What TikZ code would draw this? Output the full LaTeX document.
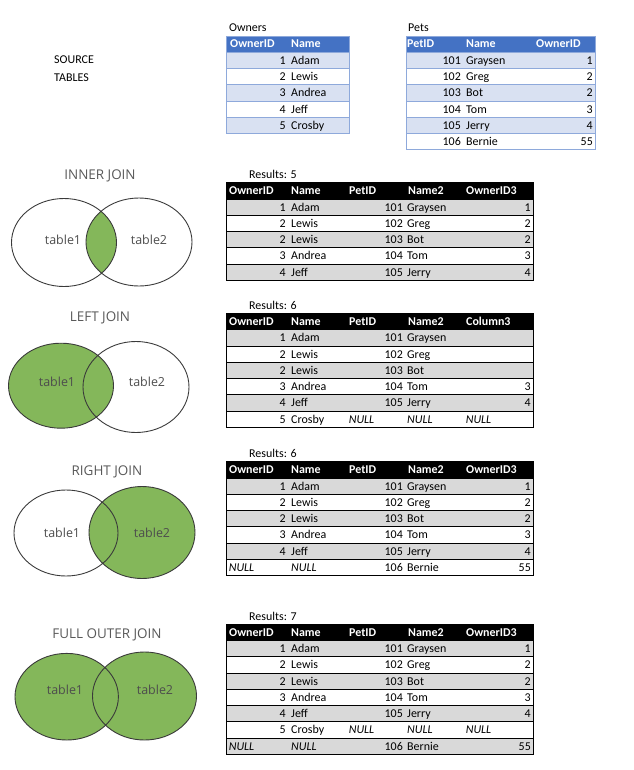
\documentclass[tikz,border=0pt]{standalone}
\usepackage{fontspec}
\setmainfont{Carlito}
\newfontfamily\vennfont{Open Sans}
\usepackage{tikz}
\definecolor{srchead}{HTML}{4472C4}
\definecolor{srcrow}{HTML}{D9E1F2}
\definecolor{srcline}{HTML}{8EA9DB}
\definecolor{resrow}{HTML}{D9D9D9}
\definecolor{venngreen}{HTML}{84B75A}
\definecolor{venndraw}{HTML}{3A3A3A}
\definecolor{titlegray}{HTML}{595959}
\definecolor{labelgray}{HTML}{4D4D4D}

\newcommand{\tabfont}{\fontsize{12}{14}\selectfont}
\newcommand{\nulw}[1]{\makebox[#1bp][l]{\itshape NULL}}
\newcommand{\nult}{\textit{NULL}}

% result table: name, top, rows, last header, data
\newcommand{\resulttable}[5]{%
  \node[txt] (#1-res) at (249,#2-4) {Results: #3};
  \fill[black] (226,#2) rectangle (533,#2+16.4);
  \foreach \a/\b/\c/\d/\e [count=\i] in {#5} {
    \pgfmathsetmacro\rtop{#2+16.4+(\i-1)*16.25}
    \ifodd\i\relax \fill[resrow] (226,\rtop) rectangle (533,\rtop+16.25); \fi
    \draw[resline] (226,\rtop) -- (533,\rtop);
    \node[num] (#1-\i-a) at (286,\rtop+12.1) {\a};
    \node[txt] (#1-\i-b) at (291,\rtop+12.1) {\b};
    \node[num] (#1-\i-c) at (403,\rtop+12.1) {\c};
    \node[txt] (#1-\i-d) at (407,\rtop+12.1) {\d};
    \node[num] (#1-\i-e) at (531,\rtop+12.1) {\e};
  }
  \draw[resline] (226,#2) rectangle (533,#2+16.4+#3*16.25);
  \node[hdr] (#1-h1) at (229,#2+12.3) {OwnerID};
  \node[hdr] (#1-h2) at (291,#2+12.3) {Name};
  \node[hdr] (#1-h3) at (349,#2+12.3) {PetID};
  \node[hdr] (#1-h4) at (408,#2+12.3) {Name2};
  \node[hdr] (#1-h5) at (466,#2+12.3) {#4};
}

\begin{document}
\begin{tikzpicture}[x=1bp, y=-1bp,
    cell/.style={inner sep=0pt, font=\tabfont},
    num/.style={cell, anchor=base east},
    txt/.style={cell, anchor=base west},
    hdr/.style={txt, text=white, font=\tabfont\bfseries},
    srcborder/.style={draw=srcline, line width=0.8pt},
    resline/.style={draw=black, line width=0.8pt},
    venn/.style={draw=venndraw, line width=0.9pt},
    vtitle/.style={font=\vennfont\fontsize{13.5}{16}\selectfont, text=titlegray},
    vlabel/.style={font=\vennfont\fontsize{12.5}{14}\selectfont, text=labelgray}
]
    \useasboundingbox (0,0) rectangle (634,770);

    % source tables
    \node[txt] (src1) at (54,64) {SOURCE};
    \node[txt] (src2) at (54,81) {TABLES};

    \node[txt] (owners) at (229,32) {Owners};
    \fill[srchead] (226,36) rectangle (349,52);
    \foreach \n/\nm [count=\i] in {1/Adam, 2/Lewis, 3/Andrea, 4/Jeff, 5/Crosby} {
        \pgfmathsetmacro\rtop{52+(\i-1)*16.3}
        \ifodd\i\relax \fill[srcrow] (226,\rtop) rectangle (349,\rtop+16.3); \fi
        \draw[srcborder] (226,\rtop) -- (349,\rtop);
        \node[num] (own-\i-id) at (286,\rtop+12.1) {\n};
        \node[txt] (own-\i-nm) at (291,\rtop+12.1) {\nm};
    }
    \draw[srcborder] (226,36) rectangle (349,133.5);
    \node[hdr] (own-h1) at (230,48) {OwnerID};
    \node[hdr] (own-h2) at (291,48) {Name};

    \node[txt] (pets) at (408,32) {Pets};
    \fill[srchead] (406,36) rectangle (595,52);
    \foreach \p/\nm/\o [count=\i] in {101/Graysen/1, 102/Greg/2, 103/Bot/2,
                                      104/Tom/3, 105/Jerry/4, 106/Bernie/55} {
        \pgfmathsetmacro\rtop{52+(\i-1)*16.3}
        \ifodd\i\relax \fill[srcrow] (406,\rtop) rectangle (595,\rtop+16.3); \fi
        \draw[srcborder] (406,\rtop) -- (595,\rtop);
        \node[num] (pet-\i-id) at (461,\rtop+12.1) {\p};
        \node[txt] (pet-\i-nm) at (466,\rtop+12.1) {\nm};
        \node[num] (pet-\i-own) at (593,\rtop+12.1) {\o};
    }
    \draw[srcborder] (406,36) rectangle (595,149.8);
    \node[hdr] (pet-h1) at (407,48) {PetID};
    \node[hdr] (pet-h2) at (466,48) {Name};
    \node[hdr] (pet-h3) at (536,48) {OwnerID};

    % inner join
    \node[vtitle] (inner-title) at (100,176) {INNER JOIN};
    \begin{scope}
        \clip (64,242.5) ellipse [x radius=52.5bp, y radius=44bp];
        \fill[venngreen] (139,242) ellipse [x radius=53bp, y radius=44bp];
    \end{scope}
    \draw[venn] (64,242.5) ellipse [x radius=52.5bp, y radius=44bp]
                (139,242) ellipse [x radius=53bp, y radius=44bp];
    \node[vlabel] (inner-t1) at (63,240) {table1};
    \node[vlabel] (inner-t2) at (149,240) {table2};
    \resulttable{inner}{182.5}{5}{OwnerID3}{1/Adam/101/Graysen/1, 2/Lewis/102/Greg/2,
        2/Lewis/103/Bot/2, 3/Andrea/104/Tom/3, 4/Jeff/105/Jerry/4}

    % left join
    \node[vtitle] (left-title) at (100,318) {LEFT JOIN};
    \fill[venngreen] (61,385.7) ellipse [x radius=52.5bp, y radius=42.5bp];
    \draw[venn] (61,385.7) ellipse [x radius=52.5bp, y radius=42.5bp]
                (136,387) ellipse [x radius=53bp, y radius=45.5bp];
    \node[vlabel] (left-t1) at (57,382) {table1};
    \node[vlabel] (left-t2) at (147,382) {table2};
    \resulttable{left}{313.3}{6}{Column3}{1/Adam/101/Graysen/{}, 2/Lewis/102/Greg/{},
        2/Lewis/103/Bot/{}, 3/Andrea/104/Tom/3, 4/Jeff/105/Jerry/4,
        5/Crosby/\nulw{54}/\nult/\nulw{65}}

    % right join
    \node[vtitle] (right-title) at (107,472) {RIGHT JOIN};
    \fill[venngreen] (142,532.5) ellipse [x radius=53bp, y radius=46bp];
    \draw[venn] (66,533) ellipse [x radius=52bp, y radius=43bp]
                (142,532.5) ellipse [x radius=53bp, y radius=46bp];
    \node[vlabel] (right-t1) at (62,533) {table1};
    \node[vlabel] (right-t2) at (152,533) {table2};
    \resulttable{right}{461.5}{6}{OwnerID3}{1/Adam/101/Graysen/1, 2/Lewis/102/Greg/2,
        2/Lewis/103/Bot/2, 3/Andrea/104/Tom/3, 4/Jeff/105/Jerry/4,
        \nulw{57}/\nult/106/Bernie/55}

    % full outer join
    \node[vtitle] (full-title) at (107,635) {FULL OUTER JOIN};
    \fill[venngreen] (66.7,696.7) ellipse [x radius=51.7bp, y radius=43.3bp]
                     (144.5,696) ellipse [x radius=52bp, y radius=44bp];
    \draw[venn] (66.7,696.7) ellipse [x radius=51.7bp, y radius=43.3bp]
                (144.5,696) ellipse [x radius=52bp, y radius=44bp];
    \node[vlabel] (full-t1) at (65,690) {table1};
    \node[vlabel] (full-t2) at (155,690) {table2};
    \resulttable{full}{624}{7}{OwnerID3}{1/Adam/101/Graysen/1, 2/Lewis/102/Greg/2,
        2/Lewis/103/Bot/2, 3/Andrea/104/Tom/3, 4/Jeff/105/Jerry/4,
        5/Crosby/\nulw{54}/\nult/\nulw{65}, \nulw{57}/\nult/106/Bernie/55}
\end{tikzpicture}
\end{document}
